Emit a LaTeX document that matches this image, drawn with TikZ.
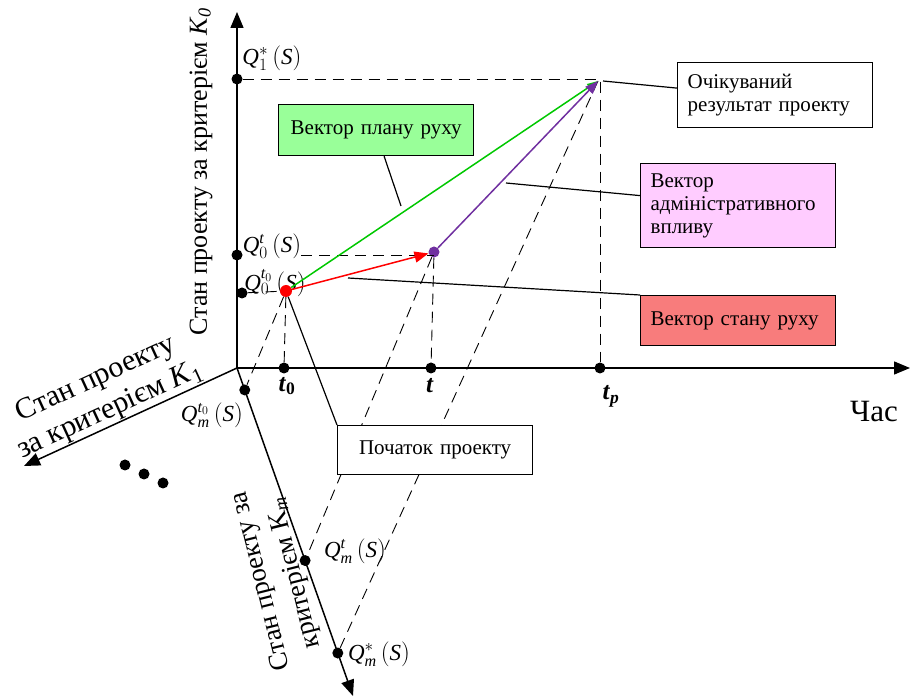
\documentclass[tikz,border=0pt]{standalone}
\usepackage{fontspec}
\setmainfont{Liberation Serif}
\usetikzlibrary{arrows.meta, positioning, calc}
\definecolor{planfill}{RGB}{153,255,153}
\definecolor{adminfill}{RGB}{255,204,255}
\definecolor{statefill}{RGB}{248,124,124}
\definecolor{planline}{RGB}{0,200,0}
\definecolor{adminline}{RGB}{112,48,160}
\newcommand{\Qs}[2]{$\mathit{Q}^{#2}_{#1}\,(\mathit{S})$}

\begin{document}
\begin{tikzpicture}[x=1pt, y=-1pt,
  box/.style={rectangle, draw, line width=1.2pt, minimum height=50pt, text width=175pt,
              inner xsep=10pt, align=left, anchor=north west, font=\fontsize{21}{23}\selectfont},
  axis/.style={-{Triangle[length=16pt,width=13pt]}, line width=1.5pt},
  guide/.style={line width=0.9pt, dash pattern=on 11pt off 7pt},
  lead/.style={line width=1.2pt},
  vec/.style={line width=1.5pt},
  dot/.style={circle, fill, inner sep=0pt, minimum size=11pt},
  qlabel/.style={inner sep=0pt, font=\fontsize{23}{25}\selectfont},
  tlabel/.style={font=\fontsize{25}{27}\selectfont},
  axislabel/.style={align=center, inner sep=1pt, font=\fontsize{26}{32}\selectfont}]

  \useasboundingbox (0,0) rectangle (911,700);

  % axes
  \coordinate (O) at (237,368);
  \coordinate (K0end) at (237,12);
  \coordinate (timeend) at (910,368);
  \coordinate (K1end) at (24,466);
  \coordinate (Kmend) at (353,696);
  \draw[axis] (O) -- (K0end);
  \draw[axis] (O) -- (timeend);
  \draw[axis] (O) -- (K1end);
  \draw[axis] (O) -- (Kmend);

  % points on the axes
  \node[dot] (Q1dot) at (237,79) {};
  \node[dot] (Q0tdot) at (237,255) {};
  \node[dot] (Q0t0dot) at (242,293) {};
  \node[dot] (t0dot) at (284,368) {};
  \node[dot] (tdot) at (431,368) {};
  \node[dot] (tpdot) at (600,368) {};
  \node[dot] (Qmt0dot) at ($(O)!0.067!(Kmend)$) {};
  \node[dot] (Qmtdot) at ($(O)!0.587!(Kmend)$) {};
  \node[dot] (Qmsdot) at ($(O)!0.869!(Kmend)$) {};
  \foreach \x/\y [count=\i] in {125/465, 144/474, 163/483}
    \node[dot] (ell\i) at (\x,\y) {};

  % labels
  \node[qlabel] (Q1lab) at (272,58) {\Qs{1}{*}};
  \node[qlabel] (Q0tlab) at (272,246) {\Qs{0}{\mathit{t}}};
  \node[qlabel] (Q0t0lab) at (275,283) {\Qs{0}{\mathit{t}_0}};
  \node[qlabel] (Qmt0lab) at (212,415) {\Qs{\mathit{m}}{\mathit{t}_0}};
  \node[qlabel] (Qmtlab) at (355,551) {\Qs{\mathit{m}}{\mathit{t}}};
  \node[qlabel] (Qmslab) at (379,654) {\Qs{\mathit{m}}{*}};
  \node[tlabel] (t0lab) at (287,386) {\textbf{\textit{t}\textsubscript{0}}};
  \node[tlabel] (tlab) at (430,386) {\textbf{\textit{t}}};
  \node[tlabel] (tplab) at (611,396) {\textbf{\textit{t}\textsubscript{\textit{p}}}};
  \node[font=\fontsize{31}{34}\selectfont] (timelab) at (874,412) {Час};
  \node[axislabel, rotate=90] (K0lab) at (201,172) {Стан проекту за критерієм \textit{K\textsubscript{0}}};
  \node[axislabel, font=\fontsize{30}{34}\selectfont, rotate=24.6] (K1lab) at (103,395) {Стан проекту\\за критерієм \textit{K}\textsubscript{1}};
  \node[axislabel, font=\fontsize{27}{34}\selectfont, rotate=104] (Kmlab) at (278,577) {Стан проекту за\\критерієм K\textsubscript{\textit{m}}};

  % state points
  \node[dot, fill=red, minimum size=12pt] (P0) at (286,291) {};
  \node[dot, fill=adminline] (Pt) at (434,252) {};
  \coordinate (Pp) at (598,81);

  % guides
  \draw[guide] (Q1dot) -- (Q1dot -| tpdot) -- (tpdot);
  \draw[guide] (Q0tlab.east |- Q0tdot) -- (Q0tdot -| Pt);
  \draw[guide] (Q0t0dot) -- (P0);
  \draw[guide] (P0) -- (t0dot);
  \draw[guide] (P0) -- (Qmt0dot);
  \draw[guide] (Pt) -- (tdot);
  \draw[guide] (Pt) -- (Qmtdot);
  \draw[guide] (Pp) -- (Qmsdot);

  % vectors
  \draw[vec, planline, -{Triangle[length=11pt,width=7pt]}] (P0) -- (Pp);
  \draw[vec, adminline, -{Triangle[length=13pt,width=10pt]}] (Pt) -- (Pp);
  \draw[vec, red, -{Triangle[length=14pt,width=11pt]}] (P0) -- (Pt);

  % callouts
  \node[box, fill=planfill, align=center, minimum height=51pt] (plan) at (278,104) {Вектор плану руху};
  \node[box, minimum height=65pt] (result) at (677,62) {Очікуваний\\результат проекту};
  \node[box, fill=adminfill, minimum height=84pt] (admin) at (640,163) {Вектор\\адміністративного\\впливу};
  \node[box, fill=statefill] (state) at (640,295) {Вектор стану руху};
  \node[box, fill=white, align=center, minimum height=49pt] (start) at (337,425) {Початок проекту};

  \coordinate (planEnd) at (401,206);
  \coordinate (adminEnd) at (506,183);
  \coordinate (stateEnd) at (348,278);
  \draw[lead] ([xshift=8pt]plan.south) -- (planEnd);
  \draw[lead] ([xshift=5pt]Pp) -- ([yshift=7pt]result.west);
  \draw[lead] (adminEnd) -- ([yshift=10pt]admin.west);
  \draw[lead] (stateEnd) -- (state.north west);
  \draw[lead] (P0) -- (start.north west);
\end{tikzpicture}
\end{document}
